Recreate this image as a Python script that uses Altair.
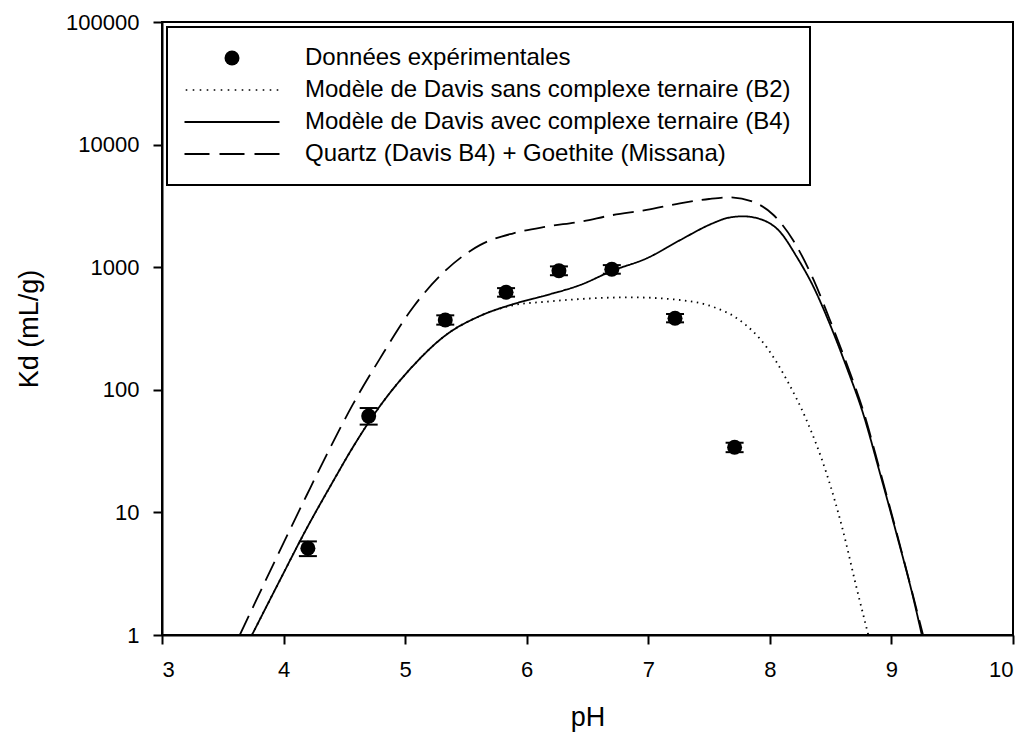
import altair as alt
import pandas as pd

# ---------------- data ----------------
series_names = [
    "Données expérimentales",
    "Modèle de Davis sans complexe ternaire (B2)",
    "Modèle de Davis avec complexe ternaire (B4)",
    "Quartz (Davis B4) + Goethite (Missana)",
]

# experimental points
pH_pts = [4.20, 4.70, 5.33, 5.83, 6.265, 6.70, 7.22, 7.71]
kd_pts = [5.1, 61, 371, 624, 936, 961, 383, 34]
kd_lo = [4.4, 52, 340, 575, 860, 885, 355, 31]
kd_hi = [5.8, 71, 405, 675, 1015, 1040, 415, 37]

# Davis model without ternary complex (B2)
b2_x = [3.74, 3.97, 4.19, 4.40, 4.57, 4.79, 5.06, 5.34, 5.615, 5.89, 6.16, 6.44,
        6.85, 7.26, 7.53, 7.75, 7.97, 8.14, 8.30, 8.465, 8.60, 8.71, 8.81]
b2_y = [1, 2.8, 7.4, 17.4, 34, 73, 155, 282, 400, 490, 523, 550,
        568, 540, 476, 371, 225, 120, 57, 21, 7.2, 2.5, 1]

# Davis model with ternary complex (B4)
b4_x = [3.74, 3.97, 4.19, 4.40, 4.57, 4.79, 5.06, 5.34, 5.615, 5.89, 6.16, 6.44,
        6.71, 6.986, 7.26, 7.53, 7.65, 7.78, 7.945, 8.08, 8.22, 8.356, 8.49,
        8.63, 8.767, 8.905, 9.04, 9.18, 9.25]
b4_y = [1, 2.8, 7.4, 17.4, 34, 73, 155, 282, 400, 500, 590, 716,
        940, 1180, 1660, 2280, 2520, 2600, 2420, 1960, 1220, 700, 350,
        154, 64, 21, 6.8, 2.0, 1]

# Quartz (Davis B4) + Goethite (Missana)
qg_x = [3.64, 3.943, 4.19, 4.354, 4.57, 4.79, 5.07, 5.34, 5.615, 5.89, 6.16, 6.44,
        6.71, 6.986, 7.26, 7.50, 7.67, 7.86, 8.03, 8.19, 8.36, 8.49, 8.63,
        8.767, 8.905, 9.04, 9.18, 9.26]
qg_y = [1, 4.3, 13.8, 29.5, 76, 178, 478, 955, 1514, 1891, 2140, 2350,
        2665, 2930, 3315, 3600, 3713, 3420, 2665, 1667, 787, 380, 165,
        68, 22, 7, 2.05, 1]

pts = pd.DataFrame({"pH": pH_pts, "Kd": kd_pts, "lo": kd_lo, "hi": kd_hi,
                    "series": series_names[0]})
curves = pd.concat([
    pd.DataFrame({"pH": b2_x, "Kd": b2_y, "series": series_names[1]}),
    pd.DataFrame({"pH": b4_x, "Kd": b4_y, "series": series_names[2]}),
    pd.DataFrame({"pH": qg_x, "Kd": qg_y, "series": series_names[3]}),
], ignore_index=True)

# ---------------- legend symbol shapes (filled paths, unit = 7.5 px) ----------------
U = 7.5  # sqrt(symbol size)/2


def rect(x0, x1, h):
    return f"M{x0/U:.3f},{-h/U:.3f}H{x1/U:.3f}V{h/U:.3f}H{x0/U:.3f}Z"


SOLID = rect(-47.5, 47.5, 1.0)
DASHED = rect(-47.5, -22.5, 1.0) + rect(-12.5, 12.5, 1.0) + rect(22.5, 47.5, 1.0)
DOTTED = "".join(rect(-45.5 + 7 * i - 0.8, -45.5 + 7 * i + 0.8, 0.8) for i in range(14))

shape_scale = alt.Scale(domain=series_names, range=["circle", DOTTED, SOLID, DASHED])
dash_scale = alt.Scale(domain=series_names[1:], range=[[1.5, 4.5], [1, 0], [21, 9]])

xs = alt.X("pH:Q", scale=alt.Scale(domain=[3, 10], nice=False, zero=False),
           axis=alt.Axis(title="pH", values=[3, 4, 5, 6, 7, 8, 9, 10], format="d",
                         labelPadding=15, titlePadding=24))
ys = alt.Y("Kd:Q", scale=alt.Scale(type="log", domain=[1, 100000], nice=False),
           axis=alt.Axis(title="Kd (mL/g)", values=[1, 10, 100, 1000, 10000, 100000],
                         format="d", labelPadding=14, titlePadding=22))

legend = alt.Legend(
    title=None, orient="none", legendX=5, legendY=5, padding=19,
    strokeColor="black", fillColor="white",
    labelFontSize=24, labelLimit=800, labelOffset=61,
    symbolSize=225, symbolOffset=34, rowPadding=8,
)

points = alt.Chart(pts).mark_point(filled=True, color="black", size=225, opacity=1).encode(
    x=xs, y=ys,
    shape=alt.Shape("series:N", scale=shape_scale, legend=legend),
)

lines = alt.Chart(curves).mark_line(strokeWidth=1.8, color="black", clip=True,
                                    interpolate="monotone").encode(
    x="pH:Q", y="Kd:Q",
    strokeDash=alt.StrokeDash("series:N", scale=dash_scale, legend=None),
)

err = alt.Chart(pts).mark_rule(color="black", strokeWidth=2).encode(
    x="pH:Q", y="lo:Q", y2="hi:Q")
caps_lo = alt.Chart(pts).mark_tick(color="black", orient="horizontal", size=18,
                                   thickness=2, opacity=1).encode(x="pH:Q", y="lo:Q")
caps_hi = alt.Chart(pts).mark_tick(color="black", orient="horizontal", size=18,
                                   thickness=2, opacity=1).encode(x="pH:Q", y="hi:Q")

chart = alt.layer(points, lines, err, caps_lo, caps_hi).properties(
    width=851, height=613,
    autosize=alt.AutoSizeParams(type="none"),
    padding={"left": 154, "top": 14, "right": 4, "bottom": 100},
).configure(font="Liberation Sans").configure_view(
    stroke="black", strokeWidth=2
).configure_axis(
    grid=False, domainColor="black", domainWidth=2, tickColor="black", tickWidth=2,
    tickSize=9, labelColor="black", labelFontSize=22, titleFontSize=27,
    titleFontWeight="normal", titleColor="black", labelFont="Liberation Sans",
    titleFont="Liberation Sans",
).configure_legend(strokeWidth=2, labelFont="Liberation Sans", labelColor="black")

chart.save("out.html", embed_options={"renderer": "svg", "actions": False})
